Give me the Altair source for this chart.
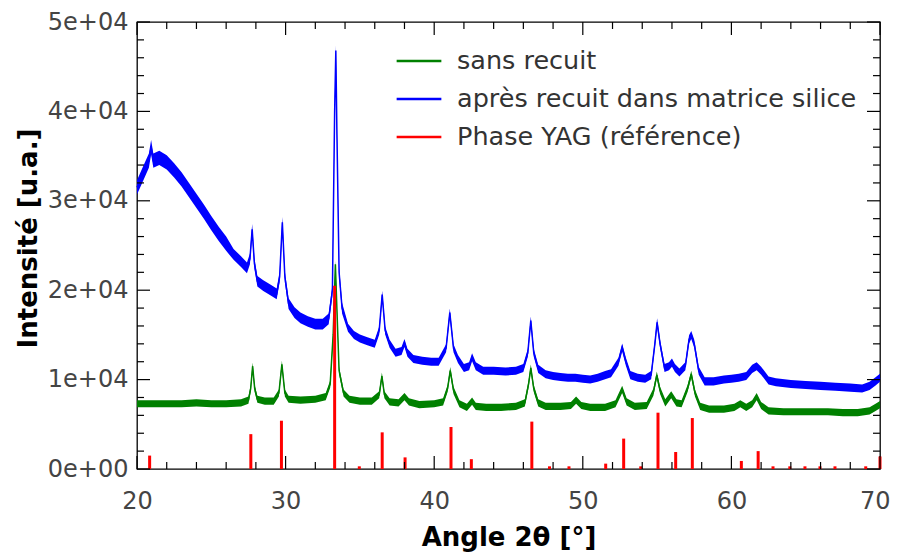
import altair as alt
import pandas as pd

# ---------------- data ----------------
blue_angle = [20.0, 20.4, 20.8, 20.95, 21.1, 21.5, 22.0, 22.5, 23.0, 23.5, 24.0, 24.5, 25.0, 25.5,
              26.0, 26.5, 27.0, 27.4, 27.6, 27.75, 27.9, 28.1, 28.5, 29.0, 29.4, 29.6, 29.78, 29.95,
              30.2, 30.6, 31.0, 31.5, 32.0, 32.5, 32.9, 33.15, 33.3, 33.38, 33.45, 33.6, 33.8, 34.2,
              34.6, 35.0, 35.5, 36.0, 36.3, 36.5, 36.7, 37.0, 37.4, 37.8, 38.0, 38.2, 38.6, 39.2,
              39.8, 40.3, 40.8, 41.05, 41.3, 41.6, 42.0, 42.35, 42.55, 42.8, 43.3, 44.0, 44.8, 45.5,
              46.0, 46.3, 46.5, 46.7, 47.0, 47.5, 48.0, 48.5, 49.0, 49.5, 50.0, 50.5, 51.0, 51.5,
              51.9, 52.4, 52.65, 52.9, 53.2, 53.7, 54.2, 54.6, 54.85, 55.0, 55.2, 55.5, 55.8, 56.0,
              56.2, 56.5, 56.9, 57.15, 57.3, 57.5, 57.8, 58.2, 58.8, 59.5, 60.0, 60.5, 61.0, 61.4,
              61.7, 62.0, 62.5, 63.0, 64.0, 65.0, 66.0, 67.0, 68.0, 68.8, 69.3, 69.7, 70.0]
blue_value = [31500, 33000, 34500, 36000, 34500, 34800, 34300, 33400, 32400, 31200, 30000, 28800, 27500, 26300,
              25200, 24000, 23200, 22500, 23500, 26800, 23000, 21000, 20500, 20000, 19600, 21500, 27600, 21500,
              18500, 17500, 16900, 16500, 16200, 16200, 16800, 20000, 40000, 46800, 38000, 22000, 18000, 15800,
              15000, 14600, 14300, 14000, 15500, 19500, 15500, 14000, 13000, 13200, 14100, 13000, 12300, 12100,
              12000, 12000, 13500, 17500, 13500, 12300, 11300, 11500, 12500, 11500, 11000, 11000, 10900, 11000,
              11300, 13000, 16600, 13000, 11200, 10600, 10400, 10300, 10200, 10200, 10100, 10000, 10200, 10500,
              10700, 12000, 13600, 12000, 10500, 10200, 10100, 10500, 14000, 16400, 14000, 11300, 11500, 11900,
              11300, 10800, 11500, 14500, 15000, 14000, 11000, 9800, 9800, 10000, 10100, 10200, 10400, 11200,
              11500, 11000, 9900, 9700, 9500, 9400, 9300, 9200, 9100, 9000, 9300, 9800, 10200]

green_angle = [20.0, 21.0, 22.0, 23.0, 24.0, 25.0, 26.0, 27.0, 27.5, 27.65, 27.78, 27.92, 28.1, 28.6,
               29.2, 29.55, 29.75, 29.95, 30.2, 31.0, 32.0, 32.7, 33.0, 33.2, 33.35, 33.45, 33.6, 33.9,
               34.3, 35.0, 35.8, 36.3, 36.48, 36.65, 37.0, 37.6, 38.0, 38.3, 39.0, 40.0, 40.6, 40.9,
               41.08, 41.3, 41.7, 42.2, 42.55, 42.8, 43.5, 44.5, 45.5, 46.1, 46.35, 46.5, 46.7, 47.0,
               47.5, 48.5, 49.2, 49.55, 49.9, 50.5, 51.5, 52.2, 52.65, 52.95, 53.5, 54.3, 54.75, 54.98,
               55.2, 55.55, 55.95, 56.3, 56.65, 57.05, 57.3, 57.55, 57.9, 58.5, 59.5, 60.2, 60.6, 61.0,
               61.4, 61.7, 62.0, 62.5, 63.5, 64.5, 65.5, 66.5, 67.5, 68.5, 69.3, 69.7, 70.0]
green_value = [7300, 7300, 7300, 7300, 7400, 7300, 7300, 7400, 7700, 9000, 11500, 9000, 7800, 7600,
               7600, 8500, 11700, 8500, 7800, 7700, 7800, 8100, 9500, 15000, 22900, 18000, 11000, 8500,
               7800, 7600, 7600, 8300, 10400, 8300, 7500, 7400, 8100, 7500, 7200, 7300, 7500, 9000,
               11000, 8800, 7300, 6900, 7600, 7000, 6900, 6900, 7000, 7400, 9500, 11300, 9000, 7400,
               7000, 7000, 7100, 7700, 7100, 6900, 6900, 7300, 8900, 7500, 7000, 7100, 8600, 10500,
               8800, 7400, 8300, 7400, 7300, 9000, 10600, 8500, 7000, 6700, 6700, 6900, 7300, 6900,
               7300, 8100, 7100, 6500, 6400, 6400, 6400, 6400, 6300, 6300, 6500, 6900, 7200]

yag_angle = [20.85, 27.66, 29.72, 33.3, 34.96, 36.5, 38.04, 41.13, 42.5, 46.57, 47.76, 49.07,
             51.54, 52.75, 53.9, 55.06, 56.25, 57.37, 60.67, 61.8, 62.8, 63.93, 64.95, 65.96,
             66.97, 69.04, 70.0]
yag_value = [1500, 3900, 5400, 20500, 300, 4100, 1300, 4700, 1100, 5300, 300, 300,
             600, 3400, 300, 6300, 1900, 5700, 900, 2000, 300, 300, 300, 300,
             300, 300, 1400]

blue_noise_from = [20.0, 26.5, 34.0]
blue_noise_amp = [800, 600, 450]
green_noise_amp = 400

series_names = ["sans recuit", "après recuit dans matrice silice", "Phase YAG (référence)"]
series_colors = ["#008000", "#0000ff", "#ff0000"]

x_major = [20, 30, 40, 50, 60, 70]
x_minor = [22, 24, 26, 28, 32, 34, 36, 38, 42, 44, 46, 48, 52, 54, 56, 58, 62, 64, 66, 68]
y_major = [0, 10000, 20000, 30000, 40000, 50000]
y_minor = [2000, 4000, 6000, 8000, 12000, 14000, 16000, 18000, 22000, 24000, 26000, 28000,
           32000, 34000, 36000, 38000, 42000, 44000, 46000, 48000]

# ---------------- tables ----------------
def blue_amp(a):
    amp = blue_noise_amp[0]
    for f, v in zip(blue_noise_from, blue_noise_amp):
        if a >= f:
            amp = v
    return amp

df_blue = pd.DataFrame({"angle": blue_angle, "value": blue_value, "serie": series_names[1]})
df_blue["lo"] = [v - blue_amp(a) for a, v in zip(blue_angle, blue_value)]
df_blue["hi"] = [v + blue_amp(a) for a, v in zip(blue_angle, blue_value)]
df_green = pd.DataFrame({"angle": green_angle, "value": green_value, "serie": series_names[0]})
df_green["lo"] = df_green["value"] - green_noise_amp
df_green["hi"] = df_green["value"] + green_noise_amp
df_lines = pd.concat([df_green, df_blue], ignore_index=True)
df_yag = pd.DataFrame({"angle": yag_angle, "value": yag_value, "serie": series_names[2]})

W, H = 743, 447
FONT = "DejaVu Sans"

xs = alt.Scale(domain=[20, 70], nice=False, zero=False)
ys = alt.Scale(domain=[0, 50000], nice=False)
cs = alt.Scale(domain=series_names, range=series_colors)

x_axis = alt.Axis(values=x_major, format="d", tickSize=0, domain=False, grid=False, labelFlush=False,
                  labelAlign={"condition": {"test": "datum.value == 70", "value": "right"}, "value": "center"},
                  labelOffset={"condition": {"test": "datum.value == 70", "value": 10}, "value": 0},
                  labelFont=FONT, labelFontSize=24, labelColor="#444", labelPadding=20,
                  title="Angle 2θ [°]", titleFont=FONT, titleFontSize=26, titleFontWeight="bold",
                  titleColor="#000", titleBaseline="middle", titleY=68)
y_axis = alt.Axis(values=y_major, tickSize=0, domain=False, grid=False, labelFlush=False,
                  labelExpr="datum.value == 0 ? '0e+00' : format(datum.value / 10000, 'd') + 'e+04'",
                  labelFont=FONT, labelFontSize=24, labelColor="#444", labelPadding=9,
                  title="Intensité [u.a.]", titleFont=FONT, titleFontSize=26, titleFontWeight="bold",
                  titleColor="#000", titleBaseline="middle", titleAngle=-90, titleX=-109, titleY=216)

X = lambda f: alt.X(f, scale=xs, axis=x_axis, title="Angle 2θ [°]")
Y = lambda f: alt.Y(f, scale=ys, axis=y_axis, title="Intensité [u.a.]")

green_band = alt.Chart(df_green).mark_area(color=series_colors[0], opacity=1).encode(
    x=X("angle:Q"), y=Y("lo:Q"), y2="hi:Q",
)
blue_band = alt.Chart(df_blue).mark_area(color=series_colors[1], opacity=1).encode(
    x=X("angle:Q"), y=Y("lo:Q"), y2="hi:Q",
)
lines = alt.Chart(df_lines).mark_line(strokeWidth=1.5).encode(
    x=X("angle:Q"), y=Y("value:Q"),
    color=alt.Color("serie:N", scale=cs, sort=series_names, title=None),
)
sticks = alt.Chart(df_yag).mark_rule(strokeWidth=3).encode(
    x=X("angle:Q"), y=Y("value:Q"), y2=alt.datum(0),
    color=alt.Color("serie:N", scale=cs, sort=series_names, title=None),
)

def xticks(vals, length, top):
    d = pd.DataFrame({"angle": vals})
    if top:
        enc = dict(y=alt.value(0), y2=alt.value(length))
    else:
        enc = dict(y=alt.value(H), y2=alt.value(H - length))
    return alt.Chart(d).mark_rule(color="#000", strokeWidth=1.2).encode(x=X("angle:Q"), **enc)

def yticks(vals, length, right):
    d = pd.DataFrame({"value": vals})
    if right:
        enc = dict(x=alt.value(W), x2=alt.value(W - length))
    else:
        enc = dict(x=alt.value(0), x2=alt.value(length))
    return alt.Chart(d).mark_rule(color="#000", strokeWidth=1.2).encode(y=Y("value:Q"), **enc)

ticks = [xticks(x_major, 13, False), xticks(x_minor, 7, False),
         xticks(x_major, 13, True), xticks(x_minor, 7, True),
         yticks(y_major, 13, False), yticks(y_minor, 7, False),
         yticks(y_major, 13, True), yticks(y_minor, 7, True)]

chart = alt.layer(green_band, blue_band, lines, sticks, *ticks).properties(
    width=W, height=H,
    autosize=alt.AutoSizeParams(type="none"),
    padding={"left": 129, "top": 14, "right": 12, "bottom": 85},
).configure_view(
    stroke="#000", strokeWidth=1.3
).configure_legend(
    orient="none", legendX=258, legendY=15, padding=0,
    symbolType="stroke", symbolSize=2000, symbolStrokeWidth=2.5,
    labelFont=FONT, labelFontSize=25.5, labelColor="#333", labelOffset=14,
    rowPadding=-10, labelLimit=600,
)

chart.save("out.html", embed_options={"renderer": "svg", "actions": False})
